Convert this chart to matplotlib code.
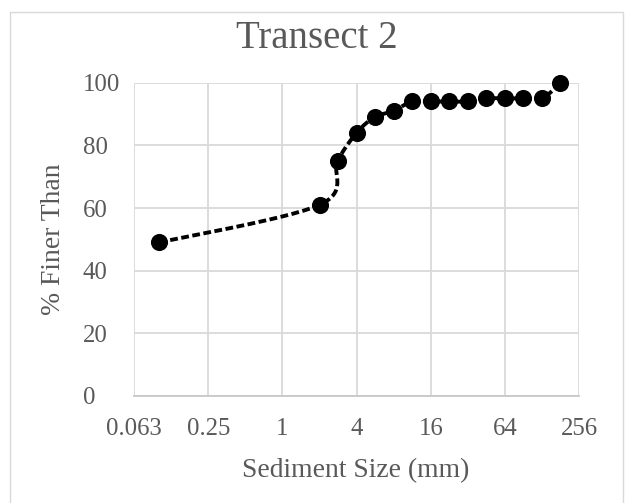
import numpy as np
import matplotlib
matplotlib.use("Agg")
import matplotlib.pyplot as plt
from matplotlib.patches import Rectangle

# tamanho das peneiras (mm) e % passante
tamanho_mm = [0.1, 2, 2.8, 4, 5.6, 8, 11.2, 16, 22.4, 32, 45, 64, 90, 128, 180]
pct_passante = [49, 61, 75, 84, 89, 91, 94, 94, 94, 94, 95, 95, 95, 95, 100]

ticks_x = [0.0625, 0.25, 1, 4, 16, 64, 256]
rotulos_x = ["0.063", "0.25", "1", "4", "16", "64", "256"]
ticks_y = [0, 20, 40, 60, 80, 100]

CINZA_TXT = "#595959"
CINZA_GRADE = "#d9d9d9"
FONTE = "Liberation Serif"

plt.rcParams["font.family"] = [FONTE, "DejaVu Serif"]

W, H = 627, 503
fig = plt.figure(figsize=(W / 100, H / 100), dpi=100)
ax = fig.add_axes([134 / W, 1 - 396 / H, (579.3 - 134) / W, (396 - 82.7) / H])

ax.set_xscale("log", base=2)
ax.set_xlim(0.0625, 256)
ax.set_ylim(0, 100)
ax.set_xticks(ticks_x)
ax.set_xticklabels(rotulos_x)
ax.xaxis.set_minor_locator(matplotlib.ticker.NullLocator())
ax.set_yticks(ticks_y)

ax.grid(True, color=CINZA_GRADE, lw=1.3)
ax.set_axisbelow(True)
for lado in ["top", "right", "left"]:
    ax.spines[lado].set_visible(False)
ax.spines["bottom"].set_color("#c8c8c8")
ax.spines["bottom"].set_linewidth(1.3)

ax.tick_params(axis="both", length=0, labelsize=17.8, labelcolor=CINZA_TXT)
ax.tick_params(axis="x", pad=16)
ax.tick_params(axis="y", pad=37)
for t in ax.get_yticklabels():
    t.set_horizontalalignment("left")
    t.set_verticalalignment("center_baseline")

# linha suavizada (bezier tipo catmull-rom, calculada em coordenadas de tela)
pts = ax.transData.transform(np.column_stack([tamanho_mm, pct_passante]))
curva = []
n = len(pts)
for i in range(n - 1):
    p0 = pts[max(i - 1, 0)]
    p1 = pts[i]
    p2 = pts[i + 1]
    p3 = pts[min(i + 2, n - 1)]
    c1 = p1 + (p2 - p0) / 6
    c2 = p2 - (p3 - p1) / 6
    t = np.linspace(0, 1, 30)[:, None]
    seg = ((1 - t) ** 3) * p1 + 3 * ((1 - t) ** 2) * t * c1 + 3 * (1 - t) * t ** 2 * c2 + t ** 3 * p2
    curva.append(seg if i == 0 else seg[1:])
curva = ax.transData.inverted().transform(np.vstack(curva))

ax.plot(curva[:, 0], curva[:, 1], color="black", lw=2.8, dashes=(2.0, 0.9),
        solid_capstyle="butt", dash_capstyle="butt", zorder=3)
ax.plot(tamanho_mm, pct_passante, "o", color="black", ms=11.3, zorder=4, clip_on=False)

fig.text(316.5 / W, 1 - 48.3 / H, "Transect 2", ha="center", va="baseline",
         fontsize=28, color=CINZA_TXT)
fig.text(356 / W, 1 - 477.3 / H, "Sediment Size (mm)", ha="center", va="baseline",
         fontsize=19.9, color=CINZA_TXT)
fig.text(54 / W, 1 - 239 / H, "% Finer Than", ha="center", va="center",
         rotation=90, fontsize=19.9, color=CINZA_TXT)

# moldura da área do gráfico
fig.add_artist(Rectangle((10 / W, -0.05), (623 - 10) / W, 1 - 12 / H + 0.05,
                         transform=fig.transFigure, fill=False, ec=CINZA_GRADE,
                         lw=1.0, clip_on=False))

fig.savefig("out.png", dpi=100)
